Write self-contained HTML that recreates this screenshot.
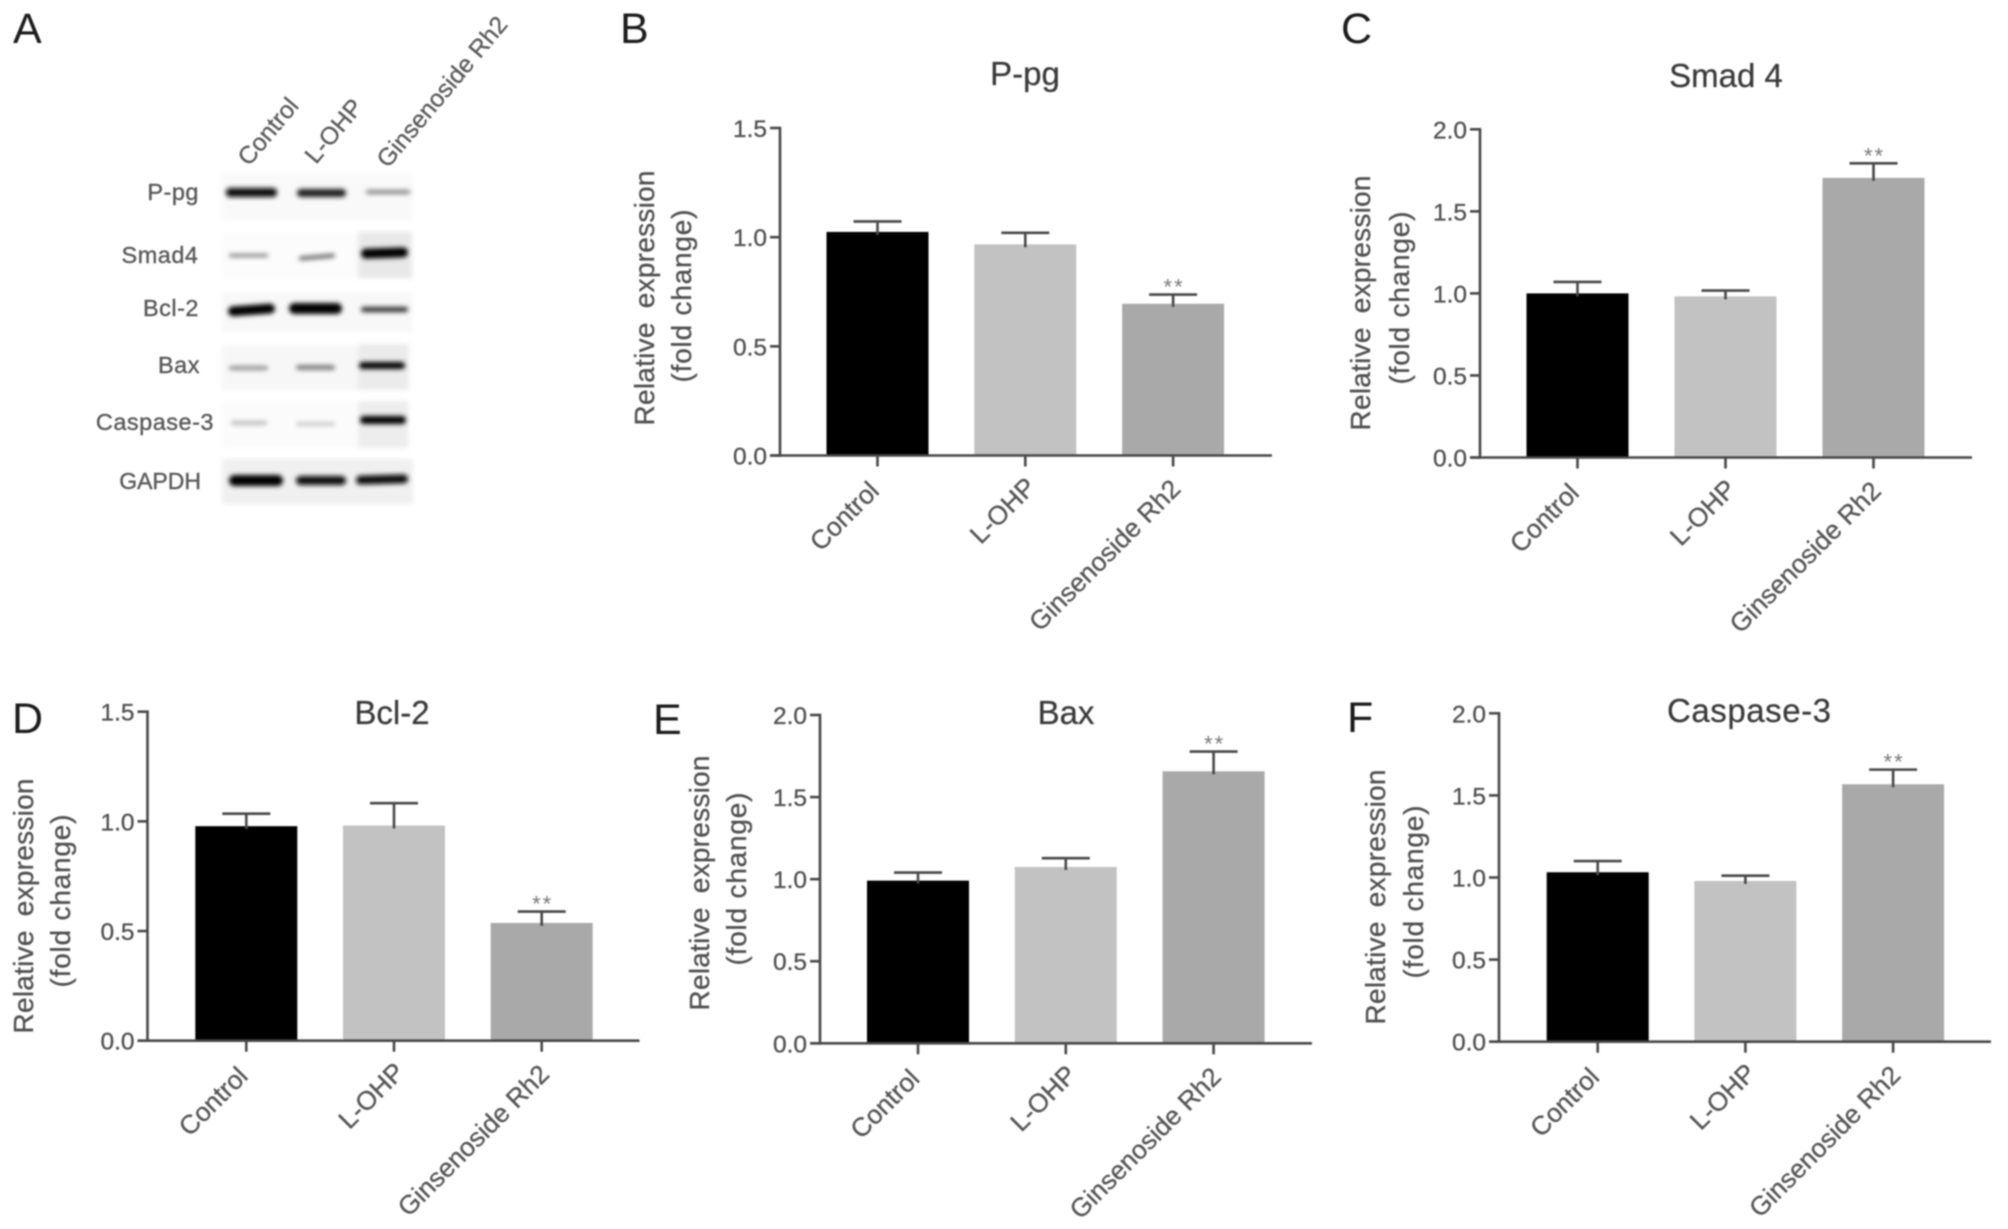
<!DOCTYPE html>
<html lang="en">
<head>
<meta charset="utf-8">
<title>Western blot and relative expression bar charts</title>
<style>
  html, body { margin: 0; padding: 0; background: #fff; }
  #figure { display: block; width: 2008px; height: 1229px; font-family: "Liberation Sans", Arial, sans-serif; filter: blur(0.7px); }
  .panel-letter { font-size: 43px; fill: #1c1c1c; }
  .chart-title { font-size: 33px; fill: #3a3a3a; text-anchor: middle; stroke: #3a3a3a; stroke-width: 0.25px; }
  .y-title { font-size: 28px; fill: #505050; text-anchor: middle; stroke: #505050; stroke-width: 0.3px; }
  .y-title.wide-gap { word-spacing: 6px; }
  .tick-label { font-size: 24.5px; fill: #505050; text-anchor: end; stroke: #505050; stroke-width: 0.3px; }
  .cat-label { font-size: 26.2px; fill: #555; text-anchor: end; stroke: #555; stroke-width: 0.3px; }
  .blot-label { font-size: 23.5px; fill: #5a5a5a; text-anchor: end; stroke: #5a5a5a; stroke-width: 0.4px; letter-spacing: 0.5px; }
  .lane-label { font-size: 24.5px; fill: #5a5a5a; stroke: #5a5a5a; stroke-width: 0.3px; }
  .stars { font-size: 22px; fill: #777; text-anchor: middle; letter-spacing: 2px; }
</style>
</head>
<body>
<svg id="figure" xmlns="http://www.w3.org/2000/svg" width="2008" height="1229" viewBox="0 0 2008 1229">
  <defs>
    <filter id="band-blur" x="-30%" y="-150%" width="160%" height="400%"><feGaussianBlur stdDeviation="2.4"/></filter>
    <filter id="bg-blur" x="-10%" y="-20%" width="120%" height="140%"><feGaussianBlur stdDeviation="2.5"/></filter>
  </defs>
  <rect width="2008" height="1229" fill="#fff"/>

  <!-- Panel letters -->
  <text class="panel-letter" x="13" y="43">A</text>
  <text class="panel-letter" x="620" y="43">B</text>
  <text class="panel-letter" x="1341" y="43">C</text>
  <text class="panel-letter" x="12" y="733">D</text>
  <text class="panel-letter" x="653" y="734">E</text>
  <text class="panel-letter" x="1347" y="732">F</text>

  <!-- Panel A: western blot -->
  <g>
    <text class="lane-label" transform="translate(249,167) rotate(-50)">Control</text>
    <text class="lane-label" transform="translate(316,165) rotate(-50)">L-OHP</text>
    <text class="lane-label" transform="translate(388,169) rotate(-50)">Ginsenoside Rh2</text>

    <text class="blot-label" x="199" y="200">P-pg</text>
    <text class="blot-label" x="198.5" y="263">Smad4</text>
    <text class="blot-label" x="199" y="316">Bcl-2</text>
    <text class="blot-label" x="200" y="373">Bax</text>
    <text class="blot-label" x="214" y="430">Caspase-3</text>
    <text class="blot-label" x="201" y="489" style="letter-spacing:0;font-size:23px">GAPDH</text>

    <g filter="url(#bg-blur)">
      <rect x="222" y="173" width="191" height="47" fill="#f9f9f9"/>
      <rect x="222" y="234" width="191" height="44" fill="#fcfcfc"/>
      <rect x="358" y="232" width="54" height="46" fill="#e8e8e8"/>
      <rect x="222" y="292" width="191" height="41" fill="#f8f8f8"/>
      <rect x="222" y="345" width="188" height="45" fill="#f7f7f7"/>
      <rect x="358" y="344" width="50" height="46" fill="#ebebeb"/>
      <rect x="222" y="402" width="188" height="46" fill="#fbfbfb"/>
      <rect x="358" y="401" width="50" height="47" fill="#ededed"/>
      <rect x="222" y="459" width="191" height="45" fill="#f0f0f0"/>
    </g>

    <g filter="url(#band-blur)">
      <rect x="226" y="188" width="51" height="9" rx="4" fill="#0c0c0c"/>
      <rect x="297" y="189" width="49" height="8" rx="4" fill="#1c1c1c"/>
      <rect x="366" y="190" width="44" height="4" rx="2" fill="#808080"/>

      <rect x="229" y="254" width="39" height="3" rx="1.5" fill="#707070"/>
      <rect x="299" y="255" width="36" height="4" rx="2" fill="#666" transform="rotate(-5 317 257)"/>
      <rect x="361" y="248" width="47" height="10" rx="5" fill="#000" transform="rotate(-2 384 253)"/>

      <rect x="228" y="305" width="47" height="10" rx="5" fill="#000" transform="rotate(-4 251 310)"/>
      <rect x="289" y="303" width="53" height="11" rx="5.5" fill="#000"/>
      <rect x="361" y="307" width="47" height="5" rx="2.5" fill="#2a2a2a"/>

      <rect x="229" y="366" width="39" height="4" rx="2" fill="#8c8c8c"/>
      <rect x="296" y="365" width="39" height="5" rx="2.5" fill="#7c7c7c"/>
      <rect x="359" y="362" width="46" height="7" rx="3.5" fill="#050505"/>

      <rect x="231" y="421" width="36" height="4" rx="2" fill="#b8b8b8"/>
      <rect x="296" y="422" width="39" height="4" rx="2" fill="#c8c8c8"/>
      <rect x="360" y="416" width="46" height="8" rx="4" fill="#050505"/>

      <rect x="229" y="475" width="54" height="11" rx="5.5" fill="#000"/>
      <rect x="296" y="476" width="50" height="9" rx="4.5" fill="#0a0a0a"/>
      <rect x="356" y="475" width="52" height="9" rx="4.5" fill="#0a0a0a" transform="rotate(-1.5 382 479)"/>
    </g>
  </g>

  <!-- Chart titles -->
  <text class="chart-title" x="1025" y="85">P-pg</text>
  <text class="chart-title" x="1726" y="87">Smad 4</text>
  <text class="chart-title" x="392" y="724">Bcl-2</text>
  <text class="chart-title" x="1066" y="724">Bax</text>
  <text class="chart-title" x="1749" y="722" textLength="164">Caspase-3</text>

  <!-- Y axis titles -->
  <text class="y-title wide-gap" transform="translate(654,298) rotate(-90)" textLength="255">Relative expression</text>
  <text class="y-title" transform="translate(691,296) rotate(-90)" textLength="173">(fold change)</text>
  <text class="y-title wide-gap" transform="translate(1370,303) rotate(-90)" textLength="255">Relative expression</text>
  <text class="y-title" transform="translate(1409,298) rotate(-90)" textLength="173">(fold change)</text>
  <text class="y-title wide-gap" transform="translate(33,906) rotate(-90)" textLength="255">Relative expression</text>
  <text class="y-title" transform="translate(70,901) rotate(-90)" textLength="173">(fold change)</text>
  <text class="y-title wide-gap" transform="translate(709,883) rotate(-90)" textLength="255">Relative expression</text>
  <text class="y-title" transform="translate(746,879) rotate(-90)" textLength="173">(fold change)</text>
  <text class="y-title wide-gap" transform="translate(1385,897) rotate(-90)" textLength="255">Relative expression</text>
  <text class="y-title" transform="translate(1423,892) rotate(-90)" textLength="173">(fold change)</text>

  <g id="charts"></g>
</svg>

<script>
// Shared labels and ticks
const categories = ['Control', 'L-OHP', 'Ginsenoside Rh2'];
const categoryKeys = ['control', 'l-ohp', 'rh2'];
const ticksTo15 = [0, 0.5, 1.0, 1.5];
const ticksTo20 = [0, 0.5, 1.0, 1.5, 2.0];
const significance = ['', '', '**'];

// Series values
const ppgMeans = [1.024, 0.967, 0.695];
const ppgErrors = [0.048, 0.053, 0.042];
const smad4Means = [1.0, 0.982, 1.704];
const smad4Errors = [0.07, 0.035, 0.089];
const bcl2Means = [0.978, 0.981, 0.537];
const bcl2Errors = [0.057, 0.102, 0.052];
const baxMeans = [0.991, 1.074, 1.657];
const baxErrors = [0.049, 0.054, 0.12];
const caspase3Means = [1.032, 0.979, 1.568];
const caspase3Errors = [0.068, 0.032, 0.089];

// Layout of each chart
const charts = [
  { key: 'b', means: ppgMeans, errors: ppgErrors, ticks: ticksTo15, axisX: 780, top: 128, zero: 455.5, firstX: 877.5, step: 147.8 },
  { key: 'c', means: smad4Means, errors: smad4Errors, ticks: ticksTo20, axisX: 1480, top: 129.3, zero: 457.5, firstX: 1577.5, step: 148 },
  { key: 'd', means: bcl2Means, errors: bcl2Errors, ticks: ticksTo15, axisX: 147.5, top: 711.7, zero: 1040.7, firstX: 246.3, step: 147.7 },
  { key: 'e', means: baxMeans, errors: baxErrors, ticks: ticksTo20, axisX: 820, top: 715, zero: 1043.3, firstX: 918, step: 147.8 },
  { key: 'f', means: caspase3Means, errors: caspase3Errors, ticks: ticksTo20, axisX: 1499, top: 713.3, zero: 1041.7, firstX: 1597.7, step: 147.7 }
];
const barFills = ['#000000', '#c2c2c2', '#a9a9a9'];
const labelNudgeX = [3, 12, 9];
const labelLift = [4, 8, 6];

const SVG_NS = 'http://www.w3.org/2000/svg';
const AXIS_COLOR = '#484848';

function make(parent, tag, attrs, text) {
  const el = document.createElementNS(SVG_NS, tag);
  for (const k in attrs) el.setAttribute(k, attrs[k]);
  if (text !== undefined) el.textContent = text;
  parent.appendChild(el);
  return el;
}

function drawChart(chart) {
  const root = document.getElementById('charts');
  const maxValue = chart.ticks[chart.ticks.length - 1];
  const yScale = function (v) { return chart.zero - (v / maxValue) * (chart.zero - chart.top); };
  const xScale = function (i) { return chart.firstX + i * chart.step; };

  const group = make(root, 'g', {});
  
  

  // bars first so axes sit on top
  chart.means.forEach(function (mean, i) {
    const cx = xScale(i);
    const bar = make(group, 'rect', { x: cx - 51, y: yScale(mean), width: 102, height: chart.zero - yScale(mean), fill: barFills[i] });
    
    

    const capY = yScale(mean + chart.errors[i]);
    const stem = make(group, 'line', { x1: cx, x2: cx, y1: capY, y2: yScale(mean) + 3, stroke: i === 0 ? '#4a4a4a' : AXIS_COLOR, 'stroke-width': 2.6 });
    
    

    const cap = make(group, 'line', { x1: cx - 24, x2: cx + 24, y1: capY, y2: capY, stroke: AXIS_COLOR, 'stroke-width': 2.6 });
    
    

    if (significance[i]) {
      const stars = make(group, 'text', { class: 'stars', x: cx + 1, y: capY }, significance[i]);
      
      
    }
  });

  // y axis
  const yAxis = make(group, 'line', { x1: chart.axisX, x2: chart.axisX, y1: chart.top - 1.3, y2: chart.zero + 1.3, stroke: AXIS_COLOR, 'stroke-width': 2.6 });
  
  

  chart.ticks.forEach(function (t) {
    const y = yScale(t);
    const tick = make(group, 'line', { x1: chart.axisX - 10, x2: chart.axisX, y1: y, y2: y, stroke: AXIS_COLOR, 'stroke-width': 2.6 });
    
    
    const label = make(group, 'text', { class: 'tick-label', x: chart.axisX - 13, y: y + 9 }, t.toFixed(1));
    
    
  });

  // x axis
  const xAxis = make(group, 'line', { x1: chart.axisX - 10, x2: chart.axisX + 492, y1: chart.zero, y2: chart.zero, stroke: AXIS_COLOR, 'stroke-width': 2.6 });
  
  

  categories.forEach(function (name, i) {
    const cx = xScale(i);
    const tick = make(group, 'line', { x1: cx, x2: cx, y1: chart.zero, y2: chart.zero + 11, stroke: AXIS_COLOR, 'stroke-width': 2.6 });
    
    
    const lx = cx + labelNudgeX[i];
    const ly = chart.zero + 41 - labelLift[i];
    const label = make(group, 'text', { class: 'cat-label', transform: 'translate(' + lx + ',' + ly + ') rotate(-45)' }, name);
    
    
  });
}

charts.forEach(drawChart);
</script>
</body>
</html>
